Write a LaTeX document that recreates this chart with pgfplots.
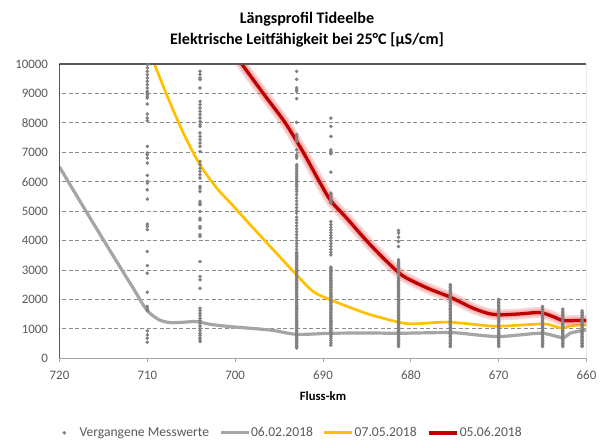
\documentclass[border=0pt]{standalone}
\usepackage{fontspec}
\setmainfont{Carlito}
\usepackage{pgfplots}
\usepackage{pgfplotstable}
\pgfplotsset{compat=1.18}
\definecolor{cgray}{RGB}{165,165,165}
\definecolor{cyellow}{RGB}{255,192,0}
\definecolor{cred}{RGB}{192,0,0}
\definecolor{cpink}{RGB}{235,120,120}
\definecolor{cdot}{RGB}{128,128,128}
\definecolor{cgrid}{RGB}{140,140,140}
\definecolor{ctext}{RGB}{89,89,89}
\definecolor{ctop}{RGB}{90,90,90}
\definecolor{cright}{RGB}{200,200,200}

\pgfplotsset{
  lineleg/.style={legend image code/.code={\draw[##1] (0pt,0pt) -- (28pt,0pt);}},
  dotleg/.style={legend image code/.code={\path (0pt,0pt) (28pt,0pt); \draw[##1] plot coordinates {(14pt,0pt)};}},
  dotsty/.style={forget plot, only marks, color=cdot, mark=*, mark size=1.6pt, mark options={draw=none, fill=cdot}},
}

\pgfplotstableread{
x y
720 6500
716.5 4760
713 3050
711.5 2330
710.5 1830
709.7 1530
708.6 1300
707.4 1213
705.9 1225
704.4 1250
702.9 1157
700.6 1077
696 960
693 815
689.1 850
684.7 860
681.4 850
675.5 873
672.5 794
670 737
667.6 794
665 850
662.7 703
661.9 850
660.5 941
660 964
}\graytab

\pgfplotstableread{
x y
710.3 10700
709.2 10000
707.8 8960
705.9 7655
704 6577
702.1 5783
700.6 5300
697.75 4364
693 2833
691.1 2265
689.1 1983
686.5 1680
684.6 1480
681.4 1230
679.7 1170
675.9 1230
672.1 1130
670 1090
665 1168
663.8 1100
662.7 1020
661.9 1100
660.5 1134
660 1120
}\yellowtab

\pgfplotstableread{
x y
701 10700
699.25 10000
696.8 9000
694.3 8000
692.25 7000
690.4 6000
689.1 5350
687.3 4760
684.6 3854
681.4 2914
679.7 2608
677.8 2347
675.5 2075
672.9 1700
671 1508
670 1474
667.6 1508
665.3 1553
663.8 1417
662.7 1281
661.5 1281
660 1281
}\redtab

\begin{document}
\begin{tikzpicture}
\useasboundingbox (0,0) rectangle (606pt,441pt);
\begin{axis}[
  at={(59.5pt,82.7pt)}, anchor=south west,
  scale only axis, width=527pt, height=294.3pt,
  xmin=660, xmax=720, x dir=reverse, ymin=0, ymax=10000,
  xtick={660,670,...,720}, ytick={0,1000,...,10000},
  xtick pos=bottom, ytick pos=left,
  tick align=outside, major tick length=4pt,
  xtick style={draw=cgray, line width=0.8pt},
  ytick style={draw=none},
  ymajorgrids, grid style={cgrid, dash pattern=on 4pt off 2.5pt, line width=0.8pt},
  axis line style={draw=none},
  /pgf/number format/assume math mode=true,
  /pgf/number format/1000 sep={},
  scaled y ticks=false,
  tick label style={font=\fontsize{12.9}{15}\selectfont, text=ctext},
  yticklabel style={xshift=-4pt},
  xticklabel style={yshift=-5.3pt},
  xlabel={Fluss-km},
  xlabel style={at={(axis description cs:0.5,-0.128)}, anchor=center, font=\fontsize{12.7}{15}\selectfont\bfseries},
  title={Längsprofil Tideelbe\\Elektrische Leitfähigkeit bei 25°C [µS/cm]},
  title style={at={(axis description cs:0.4696,1.095)}, anchor=center, align=center, font=\fontsize{16.1}{20.7}\selectfont\bfseries},
  legend columns=4,
  legend cell align=left,
  legend style={at={(axis description cs:0.4307,-0.253)}, anchor=center, draw=none, fill=none,
    font=\fontsize{13.6}{15}\selectfont, text=ctext, nodes={inner sep=1pt},
    /tikz/every even column/.append style={column sep=9pt}},
]
\addlegendimage{only marks, color=cdot, mark=*, mark size=1.6pt, mark options={draw=none,fill=cdot}, dotleg}
\addlegendentry{Vergangene Messwerte}
\addlegendimage{cgray, line width=3pt, lineleg}
\addlegendentry{06.02.2018}
\addlegendimage{cyellow, line width=2.7pt, lineleg}
\addlegendentry{07.05.2018}
\addlegendimage{cred, line width=4pt, lineleg}
\addlegendentry{05.06.2018}

% lines
\addplot[forget plot, smooth, tension=0.5, cgray, line width=3.2pt, line join=round] table {\graytab};
\addplot[forget plot, smooth, tension=0.5, cyellow, line width=2.7pt, line join=round] table {\yellowtab};
\addplot[forget plot, smooth, tension=0.5, cpink, opacity=0.3, line width=11pt, line join=round] table {\redtab};
\addplot[forget plot, smooth, tension=0.5, cpink, opacity=0.35, line width=7pt, line join=round] table {\redtab};
\addplot[forget plot, smooth, tension=0.5, cred, line width=3.3pt, line join=round] table {\redtab};

% past measurements
\addplot[dotsty] table[header=false, row sep=\\, x expr=710, y index=0]
{9980\\9866\\9752\\9640\\9526\\9412\\9300\\9185\\9072\\9015\\8960\\8900\\8845\\8640\\8300\\8165\\8075\\7200\\6975\\6917\\6800\\6634\\6214\\6010\\5954\\5727\\5410\\4560\\4480\\4370\\3630\\3150\\2890\\2245\\1760\\1680\\1610\\930\\794\\680\\544\\};
\addplot[dotsty] table[header=false, row sep=\\, x expr=704, y index=0]
{9750\\9640\\9525\\9470\\9185\\8730\\8620\\8505\\8390\\8280\\8165\\8050\\7940\\7880\\7655\\7540\\7430\\7315\\7200\\7030\\6690\\6580\\6460\\6350\\6237\\6125\\5840\\5780\\5670\\5330\\5270\\5216\\4990\\4760\\4700\\4480\\4420\\4200\\4140\\3290\\2780\\2665\\2380\\1700\\1620\\1530\\1450\\1360\\1280\\1190\\1100\\1020\\940\\850\\780\\700\\630\\567\\};
\addplot[dotsty] table[header=false, row sep=\\, x expr=693, y index=0]
{9750\\9480\\9185\\9126\\9070\\8820\\8014\\7600\\7550\\7500\\7450\\7400\\7367\\7085\\6917\\6857\\6800\\6577\\6517\\6450\\6380\\6310\\6240\\6170\\6100\\6030\\5960\\5900\\5837\\5750\\5667\\5560\\5450\\5340\\5230\\5120\\5020\\4932\\4800\\4700\\4600\\4500\\4400\\4300\\4200\\4100\\4000\\3900\\3800\\3700\\3600\\3550\\3500\\3450\\3400\\3350\\3300\\3250\\3200\\3150\\3100\\3050\\3000\\2950\\2900\\2850\\2800\\2750\\2700\\2650\\2600\\2550\\2500\\2450\\2400\\2350\\2300\\2250\\2200\\2150\\2100\\2050\\2000\\1950\\1900\\1850\\1800\\1750\\1700\\1650\\1600\\1550\\1500\\1450\\1400\\1350\\1300\\1250\\1200\\1150\\1100\\1050\\1000\\950\\900\\850\\800\\750\\700\\650\\600\\550\\500\\450\\400\\350\\};
\addplot[dotsty] table[header=false, row sep=\\, x expr=689.1, y index=0]
{8163\\7880\\7537\\7085\\7020\\6949\\6326\\5612\\5560\\5500\\5450\\5400\\5350\\5300\\5272\\4646\\4540\\4450\\4364\\4270\\4180\\4090\\4000\\3900\\3800\\3700\\3600\\3515\\3100\\3050\\3000\\2950\\2900\\2850\\2800\\2750\\2700\\2650\\2600\\2550\\2500\\2450\\2400\\2350\\2300\\2250\\2200\\2150\\2100\\2050\\2000\\1950\\1900\\1850\\1800\\1750\\1700\\1650\\1600\\1550\\1500\\1450\\1400\\1350\\1300\\1250\\1200\\1150\\1100\\1050\\1000\\950\\900\\850\\800\\750\\680\\600\\520\\450\\};
\addplot[dotsty] table[header=false, row sep=\\, x expr=681.4, y index=0]
{4343\\4253\\4116\\3970\\3800\\3350\\3300\\3250\\3200\\3150\\3100\\3050\\3000\\2950\\2900\\2850\\2750\\2700\\2650\\2600\\2550\\2500\\2450\\2400\\2350\\2300\\2250\\2200\\2150\\2100\\2050\\2000\\1950\\1900\\1850\\1800\\1750\\1700\\1650\\1600\\1550\\1500\\1450\\1400\\1350\\1300\\1250\\1200\\1150\\1100\\1050\\1000\\950\\900\\850\\800\\750\\700\\650\\600\\550\\500\\450\\400\\};
\addplot[dotsty] table[header=false, row sep=\\, x expr=675.5, y index=0]
{2500\\2450\\2400\\2350\\2300\\2250\\2200\\2150\\2100\\2050\\2000\\1950\\1900\\1850\\1800\\1750\\1700\\1650\\1600\\1550\\1500\\1450\\1400\\1350\\1300\\1250\\1200\\1150\\1100\\1050\\1000\\950\\900\\850\\800\\750\\700\\650\\600\\550\\500\\450\\400\\};
\addplot[dotsty] table[header=false, row sep=\\, x expr=670, y index=0]
{2000\\1950\\1900\\1850\\1800\\1750\\1700\\1650\\1600\\1550\\1500\\1450\\1400\\1350\\1300\\1250\\1200\\1150\\1100\\1050\\1000\\950\\900\\850\\800\\750\\700\\650\\600\\550\\500\\450\\400\\};
\addplot[dotsty] table[header=false, row sep=\\, x expr=665, y index=0]
{1760\\1700\\1650\\1600\\1550\\1500\\1450\\1400\\1350\\1300\\1250\\1200\\1150\\1100\\1050\\1000\\950\\900\\850\\800\\750\\700\\650\\600\\550\\500\\450\\400\\};
\addplot[dotsty] table[header=false, row sep=\\, x expr=662.7, y index=0]
{1670\\1600\\1550\\1500\\1450\\1400\\1350\\1300\\1250\\1200\\1150\\1100\\1050\\1000\\950\\900\\850\\800\\750\\700\\650\\600\\550\\500\\450\\400\\};
\addplot[dotsty] table[header=false, row sep=\\, x expr=660.5, y index=0]
{1610\\1550\\1500\\1450\\1400\\1350\\1300\\1250\\1200\\1150\\1100\\1050\\1000\\950\\900\\850\\800\\750\\700\\650\\600\\550\\500\\450\\400\\};

% frame
\draw[cright, line width=0.8pt] (rel axis cs:1,0) -- (rel axis cs:1,1);
\draw[cgray, line width=1pt] (rel axis cs:0,0) -- (rel axis cs:1,0);
\draw[ctop, line width=1.5pt] (rel axis cs:0,1) -- (rel axis cs:1,1);
\draw[black, line width=0.9pt] (rel axis cs:0,0) -- (rel axis cs:0,1);
\end{axis}
\end{tikzpicture}
\end{document}
